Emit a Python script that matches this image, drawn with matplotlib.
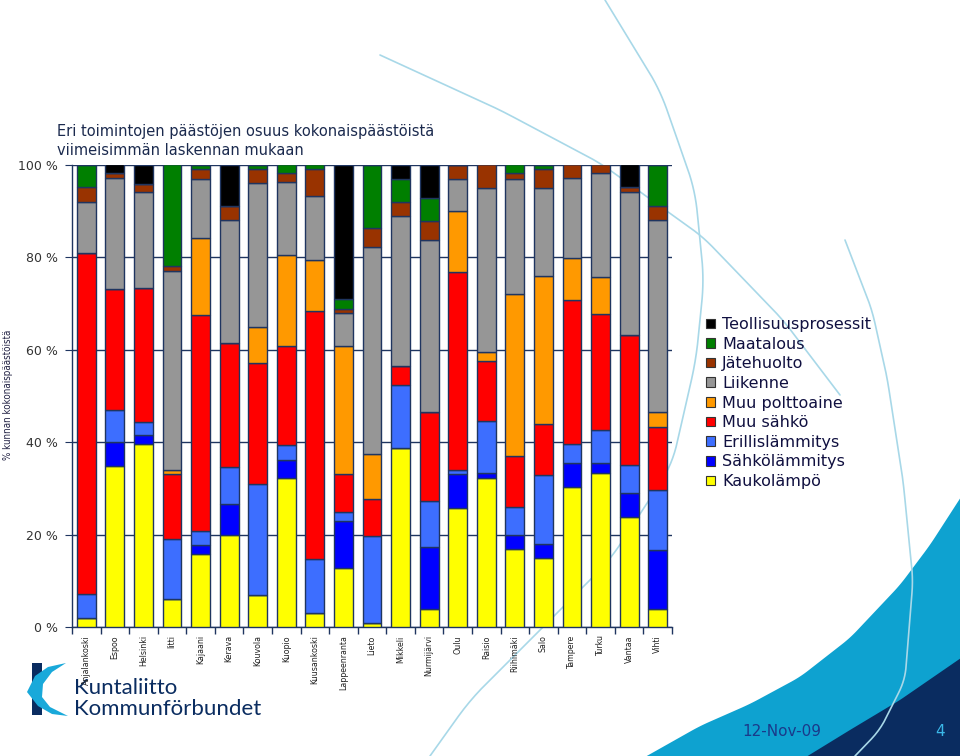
import matplotlib
matplotlib.use("Agg")
import matplotlib.pyplot as plt
from matplotlib.patches import Patch, Polygon
import numpy as np

# ---------------- data ----------------
cities = ["Anjalankoski", "Espoo", "Helsinki", "Iitti", "Kajaani", "Kerava", "Kouvola",
          "Kuopio", "Kuusankoski", "Lappeenranta", "Lieto", "Mikkeli", "Nurmijärvi",
          "Oulu", "Raisio", "Riihimäki", "Salo", "Tampere", "Turku", "Vantaa", "Vihti"]

kaukolampo      = [1.9, 34.9, 39.6, 6.0, 15.7, 19.8, 7.0, 32.2, 3.0, 12.8, 0.9, 38.7, 3.9, 25.8, 32.3, 16.9, 14.9, 30.2, 33.3, 23.9, 3.8]
sahkolammitys   = [0.0, 5.2, 1.9, 0.0, 2.0, 6.9, 0.0, 4.0, 0.0, 10.2, 0.0, 0.0, 13.3, 7.2, 1.1, 3.0, 3.1, 5.3, 2.2, 5.1, 12.8]
erillislammitys = [5.2, 6.9, 2.9, 13.1, 3.1, 7.9, 23.9, 3.1, 11.7, 1.8, 18.8, 13.6, 10.1, 0.9, 11.2, 6.0, 14.9, 4.0, 7.1, 6.0, 13.0]
muu_sahko       = [73.8, 26.2, 28.9, 14.0, 46.6, 26.8, 26.3, 21.4, 53.6, 8.2, 7.9, 4.2, 19.2, 42.9, 13.0, 11.1, 11.0, 31.2, 25.0, 28.1, 13.7]
muu_polttoaine  = [0.0, 0.0, 0.0, 0.9, 16.8, 0.0, 7.8, 19.7, 11.0, 27.8, 9.9, 0.0, 0.0, 13.2, 1.9, 35.1, 32.0, 9.2, 8.2, 0.0, 3.1]
liikenne        = [11.1, 23.9, 20.8, 43.1, 12.8, 26.7, 31.0, 15.8, 13.9, 7.1, 44.6, 32.5, 37.3, 6.9, 35.5, 24.9, 19.0, 17.2, 22.4, 31.0, 41.6]
jatehuolto      = [3.1, 1.0, 1.7, 0.9, 2.0, 3.0, 3.0, 1.9, 5.9, 0.8, 4.1, 3.0, 4.1, 3.1, 5.1, 1.1, 4.1, 3.1, 2.0, 1.0, 3.1]
maatalous       = [4.9, 0.0, 0.0, 22.1, 1.0, 0.0, 1.0, 2.0, 1.0, 2.2, 13.8, 4.9, 5.0, 0.0, 0.0, 2.0, 1.0, 0.0, 0.0, 0.0, 8.9]
teollisuus      = [0.0, 2.0, 4.2, 0.0, 0.0, 8.9, 0.0, 0.0, 0.0, 29.1, 0.0, 3.1, 7.1, 0.0, 0.0, 0.0, 0.0, 0.0, 0.0, 5.1, 0.0]

series_names = ["Kaukolämpö", "Sähkölämmitys", "Erillislämmitys", "Muu sähkö", "Muu polttoaine",
                "Liikenne", "Jätehuolto", "Maatalous", "Teollisuusprosessit"]
series = [kaukolampo, sahkolammitys, erillislammitys, muu_sahko, muu_polttoaine,
          liikenne, jatehuolto, maatalous, teollisuus]
colors = ["#FFFF00", "#0000FF", "#3D6EFF", "#FF0000", "#FF9900",
          "#969696", "#993300", "#007F00", "#000000"]

yticks = [0, 20, 40, 60, 80, 100]
ytick_labels = ["0 %", "20 %", "40 %", "60 %", "80 %", "100 %"]

title = "Eri toimintojen päästöjen osuus kokonaispäästöistä\nviimeisimmän laskennan mukaan"
ylabel = "% kunnan kokonaispäästöistä"

# ---------------- figure ----------------
W, H = 960, 756
fig = plt.figure(figsize=(9.6, 7.56), dpi=100)
fig.patch.set_facecolor("white")

def fx(px):
    return px / W

def fy(py):
    return 1 - py / H

bg = fig.add_axes([0, 0, 1, 1], zorder=0)
bg.set_xlim(0, W)
bg.set_ylim(H, 0)
bg.axis("off")

def smooth(pts, n=300, k=15):
    pts = np.array(pts, dtype=float)
    seg = np.sqrt((np.diff(pts, axis=0) ** 2).sum(axis=1))
    t = np.concatenate([[0], np.cumsum(seg)]) / seg.sum()
    tt = np.linspace(0, 1, n)
    xs = np.interp(tt, t, pts[:, 0])
    ys = np.interp(tt, t, pts[:, 1])
    ker = np.ones(k) / k
    xs2 = np.convolve(np.pad(xs, k // 2, mode="edge"), ker, mode="valid")
    ys2 = np.convolve(np.pad(ys, k // 2, mode="edge"), ker, mode="valid")
    xs2[0], ys2[0], xs2[-1], ys2[-1] = xs[0], ys[0], xs[-1], ys[-1]
    return np.column_stack([xs2, ys2])

# light blue swoosh
top = smooth([(645, 757), (700, 726), (750, 704), (800, 677), (850, 638), (900, 585),
              (930, 545), (961, 497)])
sw = np.vstack([top, [(961, 757)]])
bg.add_patch(Polygon(sw, closed=True, fc="#0EA2D0", ec="none"))
# dark navy swoosh
top2 = smooth([(806, 757), (850, 730), (900, 700), (961, 658)])
dk = np.vstack([top2, [(961, 757)]])
bg.add_patch(Polygon(dk, closed=True, fc="#0A2C60", ec="none"))

# faint arcs
arc_kw = dict(color="#A8D8E8", lw=1.2, solid_capstyle="round")
for pts in [
    [(605, 0), (660, 90), (695, 190), (704, 280), (696, 360), (672, 465),
     (610, 560), (530, 640), (470, 700), (430, 756)],
    [(380, 55), (500, 110), (600, 163), (703, 237), (783, 320), (840, 395)],
    [(845, 240), (872, 310), (887, 377), (903, 480), (913, 580), (905, 680),
     (880, 730), (855, 756)],
]:
    c = smooth(pts)
    bg.plot(c[:, 0], c[:, 1], **arc_kw)

# logo
bg.add_patch(Polygon([(32, 663), (42, 663), (42, 715), (32, 715)], closed=True,
                     fc="#0A2C60", ec="none"))
bg.add_patch(Polygon([(27, 692), (35, 676), (48, 667), (66, 663), (52, 672), (43, 684),
                      (42, 697), (50, 707), (68, 716), (52, 714), (38, 706)],
                     closed=True, fc="#19A9DA", ec="none"))
bg.text(74, 688, "Kuntaliitto", fontsize=16, color="#0A2C60", family="Lato",
        va="center", ha="left")
bg.text(74, 709, "Kommunförbundet", fontsize=16, color="#0A2C60", family="Lato",
        va="center", ha="left")

# footer
bg.text(782, 731, "12-Nov-09", fontsize=11, color="#1A3A8A", ha="center", va="center")
bg.text(940, 731, "4", fontsize=11, color="#3BB8E8", ha="center", va="center")

# ---------------- chart ----------------
ax_left, ax_right, ax_top, ax_bot = 72, 672, 164.7, 627
ax = fig.add_axes([fx(ax_left), fy(ax_bot), fx(ax_right - ax_left), (ax_bot - ax_top) / H],
                  zorder=2)
ax.patch.set_alpha(0)

x = np.arange(len(cities))
bottom = np.zeros(len(cities))
edge = "#1F3560"
for name, vals, c in zip(series_names, series, colors):
    v = np.array(vals)
    ax.bar(x, v, bottom=bottom, width=0.66, color=c, edgecolor=edge, linewidth=1.0,
           label=name, zorder=3)
    bottom += v

ax.set_xlim(-0.5, len(cities) - 0.5)
ax.set_ylim(0, 100)
ax.set_yticks(yticks)
ax.set_yticklabels(ytick_labels, fontsize=9, color="#333333")
ax.yaxis.grid(True, color="#1F3560", lw=1.0, zorder=1)
ax.set_axisbelow(True)
for s in ["top", "right"]:
    ax.spines[s].set_visible(False)
for s in ["left", "bottom"]:
    ax.spines[s].set_color("#1F3560")
    ax.spines[s].set_linewidth(1.0)
ax.tick_params(axis="y", length=5, color="#1F3560", pad=5)

ax.set_xticks(x)
ax.set_xticklabels(cities, rotation=90, fontsize=6.3, fontstretch="condensed",
                   color="#222222", va="top")
ax.tick_params(axis="x", which="major", length=0, pad=6)
ax.set_xticks(np.arange(-0.5, len(cities)), minor=True)
ax.tick_params(axis="x", which="minor", length=5, color="#1F3560", width=1)

fig.text(fx(8), fy(395), ylabel, rotation=90, fontsize=7, fontstretch="condensed",
         color="#222244", ha="center", va="center")

fig.text(fx(57), fy(141), title, fontsize=10.5, color="#1B2A4E", ha="left", va="center",
         linespacing=1.35)

handles = [Patch(fc=c, ec="#333333", lw=0.8) for c in colors][::-1]
labels = series_names[::-1]
leg = fig.legend(handles, labels, loc="upper left", bbox_to_anchor=(fx(706), fy(317)),
                 frameon=False, fontsize=11.5, handlelength=0.55, handleheight=0.55,
                 handletextpad=0.45, labelspacing=0.29, borderaxespad=0, borderpad=0)
for t in leg.get_texts():
    t.set_color("#101040")

fig.savefig("out.png", dpi=100, facecolor="white")
